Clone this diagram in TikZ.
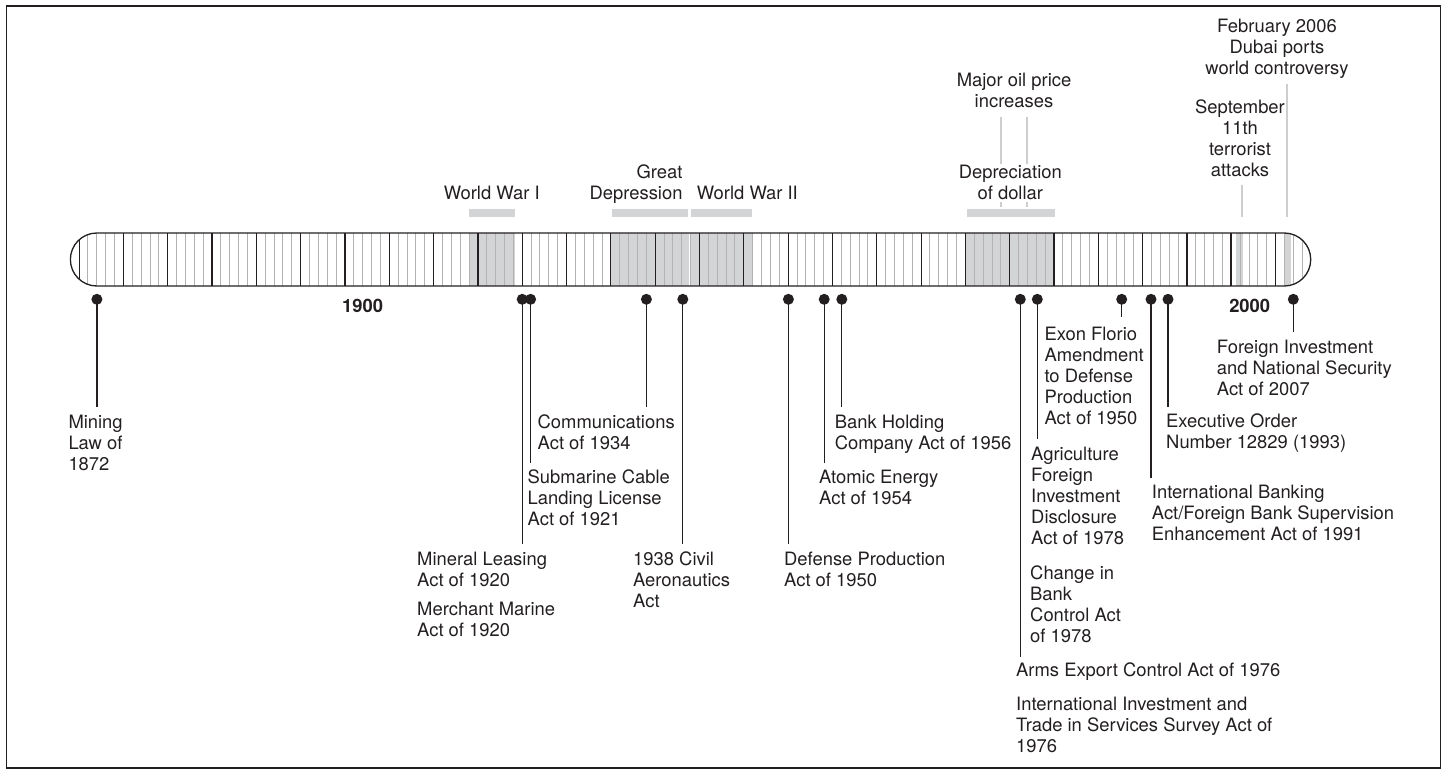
\documentclass[tikz,border=0pt]{standalone}
\usepackage{fontspec}
\setmainfont{TeX Gyre Heros}
\newcommand{\txl}[1]{\begin{tabular}[t]{@{}l@{}}#1\end{tabular}}
\newcommand{\txc}[1]{\begin{tabular}[t]{@{}c@{}}#1\end{tabular}}
\newcommand{\txr}[1]{\begin{tabular}[t]{@{}r@{}}#1\end{tabular}}
\definecolor{ink}{HTML}{231F20}
\definecolor{periodgray}{HTML}{D3D4D5}
\definecolor{yearln}{HTML}{B3B3B3}
\definecolor{markln}{HTML}{CDCECF}
\begin{document}
\begin{tikzpicture}[x=1pt,y=-1pt,
  lbl/.style={inner sep=0pt, text=ink, font=\fontsize{18.4}{21.2}\selectfont},
  lblW/.style={lbl, anchor=base west},
  lblC/.style={lbl, anchor=base},
  lblE/.style={lbl, anchor=base east},
  yearlbl/.style={lbl, anchor=base, font=\fontsize{18.4}{21.2}\selectfont\bfseries},
  dot/.style={circle, fill=ink, draw=none, inner sep=0pt, minimum size=11pt},
  pinline/.style={draw=ink, line width=1.2pt},
  yearline/.style={draw=yearln, line width=1pt},
  fiveline/.style={draw=ink, line width=1.2pt},
  periodfill/.style={fill=periodgray, draw=none},
  markline/.style={draw=markln, line width=2.2pt},
  frame/.style={draw=ink, line width=1.3pt},
]
\useasboundingbox (0,0) rectangle (1447,774);
\draw[frame] (6.5,6) rectangle (1440.5,768);

% ---- timeline bar ----
\begin{scope}
  \clip[rounded corners=26.4pt] (70.4,233) rectangle (1310.7,286);
  \fill[white] (60,230) rectangle (1320,290);
  \path[periodfill] (468.8,233) rectangle (515,286);
  \path[periodfill] (610.8,233) rectangle (689.2,286);
  \path[periodfill] (691.4,233) rectangle (752.5,286);
  \path[periodfill] (965.4,233) rectangle (1054,286);
  \path[periodfill] (1236,233) rectangle (1243,286);
  \path[periodfill] (1283.5,233) rectangle (1290.5,286);
  \foreach \yr in {1870,...,2008}{
    \pgfmathsetmacro\xx{345+(\yr-1900)*8.863}
    \draw[yearline] (\xx,233) -- (\xx,286);
  }
  \foreach \yr in {1870,1875,...,2005}{
    \pgfmathsetmacro\xx{345+(\yr-1900)*8.863}
    \draw[fiveline] (\xx,233) -- (\xx,286);
  }
  \draw[ink, line width=1.8pt] (345,233) -- (345,286);
  \draw[ink, line width=1.8pt] (1231.3,233) -- (1231.3,286);
\end{scope}
\draw[draw=ink, line width=1.3pt, rounded corners=26.4pt] (70.4,233) rectangle (1310.7,286);

% ---- period bars ----
\path[periodfill] (469.3,209.3) rectangle (515,216.7);
\path[periodfill] (612.3,209.3) rectangle (687.7,216.7);
\path[periodfill] (691,209.3) rectangle (752.3,216.7);
\path[periodfill] (967,209.3) rectangle (1055,216.7);

% ---- event marker lines ----
\coordinate (oilA1) at (1001,117);   \coordinate (oilA2) at (1001,164);
\coordinate (oilA3) at (1001,201.7); \coordinate (oilA4) at (1001,207);
\coordinate (oilB1) at (1026.7,117);   \coordinate (oilB2) at (1026.7,164);
\coordinate (oilB3) at (1026.7,201.7); \coordinate (oilB4) at (1026.7,207);
\draw[markline] (oilA1) -- (oilA2) (oilA3) -- (oilA4);
\draw[markline] (oilB1) -- (oilB2) (oilB3) -- (oilB4);
\coordinate (sepT) at (1242.3,185); \coordinate (sepB) at (1242.3,216.7);
\draw[markline] (sepT) -- (sepB);
\coordinate (dubT) at (1287.3,84); \coordinate (dubB) at (1287.3,216.7);
\draw[markline] (dubT) -- (dubB);

% ---- top labels ----
\node[lblC] (wwi) at (491.7,199.3) {World War I};
\node[lblE] (gd) at (682.7,178.1) {\txr{Great\\Depression}};
\node[lblW] (wwii) at (696.7,199.3) {World War II};
\node[lblC] (oil) at (1014,86.7) {\txc{Major oil price\\increases}};
\node[lblC] (dollar) at (1010.3,178.1) {\txc{Depreciation\\of dollar}};
\node[lblC] (sept) at (1240,113.3) {\txc{September\\11th\\terrorist\\attacks}};
\node[lblC] (dubai) at (1277,32.3) {\txc{February 2006\\Dubai ports\\world controversy}};

\node[yearlbl] (y1900) at (362.7,312.7) {1900};
\node[yearlbl] (y2000) at (1249.7,312.7) {2000};

% ---- pins ----
\foreach \nm/\px/\py in {
  1872/96.9/406.7, 1920/522.2/544, 1921/530.6/463.3, 1934/646.4/406.7,
  1938/682.8/544, 1950/788.4/544, 1954/824.2/463.3, 1956/841.8/406.7,
  1976/1020.3/656.7, 1978/1037.3/439, 1988/1121.7/316.7, 1991/1151/478.3,
  1993/1168/406.7, 2007/1293.3/332.3}{
  \node[dot] (d\nm) at (\px,299.3) {};
  \coordinate (e\nm) at (\px,\py);
  \draw[pinline] (d\nm.center) -- (e\nm);
}

% ---- bottom labels ----
\node[lblW] (tmining) at (68.3,428) {\txl{Mining\\Law of\\1872}};
\node[lblW] (tmineral) at (417,565) {\txl{Mineral Leasing\\Act of 1920}};
\node[lblW] (tmerchant) at (417,615) {\txl{Merchant Marine\\Act of 1920}};
\node[lblW] (tsub) at (527.5,483.3) {\txl{Submarine Cable\\Landing License\\Act of 1921}};
\node[lblW] (tcomm) at (537.5,428) {\txl{Communications\\Act of 1934}};
\node[lblW] (tcivil) at (633,565) {\txl{1938 Civil\\Aeronautics\\Act}};
\node[lblW] (tdef) at (784,565) {\txl{Defense Production\\Act of 1950}};
\node[lblW] (tatom) at (819,483.3) {\txl{Atomic Energy\\Act of 1954}};
\node[lblW] (tbank) at (834.6,428) {\txl{Bank Holding\\Company Act of 1956}};
\node[lblW] (texon) at (1044.3,340) {\txl{Exon Florio\\Amendment\\to Defense\\Production\\Act of 1950}};
\node[lblW] (tagri) at (1031,460) {\txl{Agriculture\\Foreign\\Investment\\Disclosure\\Act of 1978}};
\node[lblW] (tchange) at (1030,579.3) {\txl{Change in\\Bank\\Control Act\\of 1978}};
\node[lblW] (tarms) at (1016,676.7) {Arms Export Control Act of 1976};
\node[lblW] (tiits) at (1016,710) {\txl{International Investment and\\Trade in Services Survey Act of\\1976}};
\node[lblW] (texec) at (1166,427.3) {\txl{Executive Order\\Number 12829 (1993)}};
\node[lblW] (tibank) at (1151.7,498.3) {\txl{International Banking\\Act/Foreign Bank Supervision\\Enhancement Act of 1991}};
\node[lblW] (tfinsa) at (1216.7,353.3) {\txl{Foreign Investment\\and National Security\\Act of 2007}};
\end{tikzpicture}
\end{document}
